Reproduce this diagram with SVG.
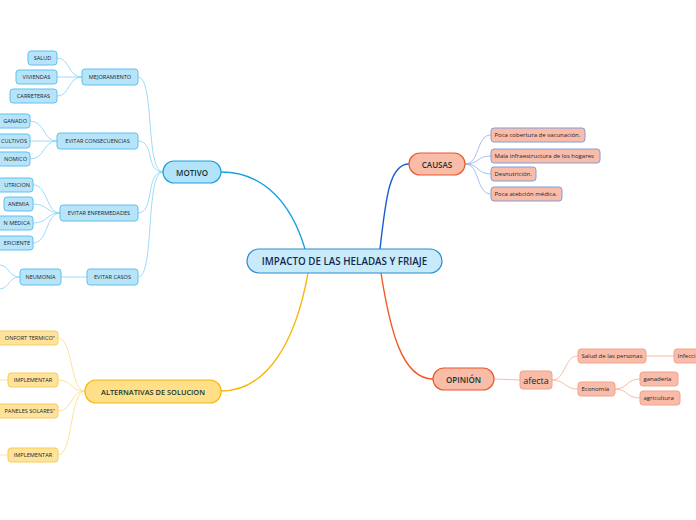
<svg xmlns="http://www.w3.org/2000/svg" width="696" height="520" viewBox="0 0 696 520">
<style>
text{font-family:"Open Sans","Noto Sans","DejaVu Sans",sans-serif;fill:#1a2430;dominant-baseline:central}
.t{text-anchor:middle}
.e{text-anchor:end}
.bl{fill:#b7e4f9;stroke:#5fc1ee;stroke-width:1}
.blm{fill:#b3e3fa;stroke:#1ba1e2;stroke-width:1.2}
.ctr{fill:#c8ebfb;stroke:#2b8ccf;stroke-width:1.2}
.yl{fill:#ffe39a;stroke:#f8cd5a;stroke-width:1}
.ylm{fill:#ffdf88;stroke:#f6b90f;stroke-width:1.2}
.sm{fill:#f9bca9;stroke:#e9592b;stroke-width:1.2}
.sc{fill:#f9bca9;stroke:#7f9fdc;stroke-width:1}
.so{fill:#f9bca9;stroke:#f3a289;stroke-width:1}
.s6{font-size:5.6px}
.s5{font-size:6px}
.m{font-size:8px;fill:#133630;font-weight:600}
.c{fill:none}
.cb{stroke:#86d2f5;stroke-width:0.8}
.cy{stroke:#fcd98a;stroke-width:0.8}
.cc{stroke:#8fb0ec;stroke-width:0.8}
.co{stroke:#f8b29c;stroke-width:0.9}
</style>
<g id="connectors" class="c">
<path d="M305,249 C292,205 265,172 221,172" stroke="#1aa0e0" stroke-width="1.4" fill="none"/>
<path d="M380,249 C386,195 390,164 409,164" stroke="#1a5fcc" stroke-width="1.4" fill="none"/>
<path d="M381,273 C390,330 402,379 433,379" stroke="#f25a24" stroke-width="1.4" fill="none"/>
<path d="M308,273 C296,340 268,391 221,391" stroke="#f7b500" stroke-width="1.4" fill="none"/>
<g class="cb" fill="none">
<path d="M163,172 C145,172 155,77 138,77"/>
<path d="M163,172 C145,172 155,141 138,141"/>
<path d="M163,172 C145,172 155,213 138,213"/>
<path d="M163,172 C145,172 155,277 138,277"/>
<path d="M82,77 C68,77 70,58 57,58"/>
<path d="M82,77 L57,77"/>
<path d="M82,77 C68,77 70,96 57,96"/>
<path d="M57,141 C43,141 45,121 30,121"/>
<path d="M57,141 L30,141"/>
<path d="M57,141 C43,141 45,159 30,159"/>
<path d="M60,213 C46,213 48,185 33,185"/>
<path d="M60,213 C46,213 48,204 33,204"/>
<path d="M60,213 C46,213 48,223 33,223"/>
<path d="M60,213 C46,213 48,243 33,243"/>
<path d="M87,277 L61,277"/>
<path d="M20,277 C8,277 10,266 0,265"/>
<path d="M20,277 C8,277 10,288 0,289"/>
</g>
<g class="cy" fill="none">
<path d="M85,391 C70,391 73,338 58,338"/>
<path d="M85,391 C70,391 73,380 58,380"/>
<path d="M85,391 C70,391 73,411 58,411"/>
<path d="M85,391 C70,391 73,455 58,455"/>
<path d="M8,380 L0,380"/>
<path d="M8,455 L0,455"/>
</g>
<g class="cc" fill="none">
<path d="M465,164 C480,164 476,135 491,135"/>
<path d="M465,164 C480,164 476,156 491,156"/>
<path d="M465,164 C480,164 476,174 491,174"/>
<path d="M465,164 C480,164 476,194 491,194"/>
</g>
<g class="co" fill="none">
<path d="M494,379 L520,380"/>
<path d="M552,380 C566,380 564,356 578,356"/>
<path d="M552,380 C566,380 564,389 578,389"/>
<path d="M646,356 L674,356"/>
<path d="M615,389 C628,389 626,379 640,379"/>
<path d="M615,389 C628,389 626,398 640,398"/>
</g>
</g>
<g id="central"><rect class="ctr" x="247" y="249" width="195" height="24" rx="12"/><text class="t" x="344.5" y="261" style="font-size:9.8px;fill:#14294f;font-weight:600">IMPACTO DE LAS HELADAS Y FRIAJE</text></g>
<g id="motivo"><rect class="blm" x="163" y="161" width="58" height="22" rx="11"/><text class="t m" x="192" y="172">MOTIVO</text></g>
<g id="causas"><rect class="sm" x="409" y="153" width="56" height="22" rx="11"/><text class="t m" x="437" y="164">CAUSAS</text></g>
<g id="opinion"><rect class="sm" x="433" y="368" width="61" height="22" rx="11"/><text class="t m" x="463.5" y="379">OPINIÓN</text></g>
<g id="alternativas"><rect class="ylm" x="85" y="380" width="136" height="23" rx="11"/><text class="t m" x="153" y="391.5" style="font-size:7.4px">ALTERNATIVAS DE SOLUCION</text></g>
<g id="mejoramiento"><rect class="bl" x="82" y="69" width="56" height="16" rx="3"/><text class="t s6" x="110" y="77">MEJORAMIENTO</text></g>
<g id="evitar-consecuencias"><rect class="bl" x="57" y="133" width="81" height="16" rx="3"/><text class="t s6" x="97.5" y="141">EVITAR CONSECUENCIAS</text></g>
<g id="evitar-enfermedades"><rect class="bl" x="60" y="205" width="78" height="16" rx="3"/><text class="t s6" x="99" y="213">EVITAR ENFERMEDADES</text></g>
<g id="evitar-casos"><rect class="bl" x="87" y="269" width="51" height="16" rx="3"/><text class="t s6" x="112.5" y="277">EVITAR CASOS</text></g>
<g id="salud"><rect class="bl" x="28" y="51" width="29" height="14" rx="3"/><text class="t s6" x="42.5" y="58">SALUD</text></g>
<g id="viviendas"><rect class="bl" x="16" y="70" width="41" height="14" rx="3"/><text class="t s6" x="36.5" y="77">VIVIENDAS</text></g>
<g id="carreteras"><rect class="bl" x="10" y="89" width="47" height="14" rx="3"/><text class="t s6" x="33.5" y="96">CARRETERAS</text></g>
<g id="ganado"><rect class="bl" x="-20" y="114" width="50" height="14" rx="3"/><text class="e s6" x="27" y="121">GANADO</text></g>
<g id="cultivos"><rect class="bl" x="-20" y="134" width="50" height="14" rx="3"/><text class="e s6" x="27" y="141">CULTIVOS</text></g>
<g id="economico"><rect class="bl" x="-20" y="152" width="50" height="14" rx="3"/><text class="e s6" x="27" y="159">NOMICO</text></g>
<g id="nutricion"><rect class="bl" x="-20" y="178" width="53" height="14" rx="3"/><text class="e s6" x="30" y="185">UTRICION</text></g>
<g id="anemia"><rect class="bl" x="4" y="197" width="29" height="14" rx="3"/><text class="t s6" x="18.5" y="204">ANEMIA</text></g>
<g id="atencion-medica"><rect class="bl" x="-20" y="216" width="53" height="14" rx="3"/><text class="e s6" x="30" y="223">N MEDICA</text></g>
<g id="deficiente"><rect class="bl" x="-20" y="236" width="53" height="14" rx="3"/><text class="e s6" x="30" y="243">EFICIENTE</text></g>
<g id="neumonia"><rect class="bl" x="20" y="269" width="41" height="16" rx="3"/><text class="t s6" x="40.5" y="277">NEUMONÍA</text></g>
<g id="confort"><rect class="yl" x="-20" y="331" width="78" height="14" rx="3"/><text class="e s6" x="55" y="338">ONFORT TERMICO"</text></g>
<g id="implementar1"><rect class="yl" x="8" y="373" width="50" height="14" rx="3"/><text class="t s6" x="33" y="380">IMPLEMENTAR</text></g>
<g id="paneles"><rect class="yl" x="-20" y="404" width="78" height="14" rx="3"/><text class="e s6" x="55" y="411">PANELES SOLARES"</text></g>
<g id="implementar2"><rect class="yl" x="8" y="448" width="50" height="14" rx="3"/><text class="t s6" x="33" y="455">IMPLEMENTAR</text></g>
<g id="causa1"><rect class="sc" x="491" y="128" width="94" height="14" rx="3"/><text class="s5" x="494.5" y="135">Poca cobertura de vacunación.</text></g>
<g id="causa2"><rect class="sc" x="491" y="149" width="109" height="14" rx="3"/><text class="s5" x="494.5" y="156">Mala infraestructura de los hogares</text></g>
<g id="causa3"><rect class="sc" x="491" y="167" width="45" height="14" rx="3"/><text class="s5" x="494.5" y="174">Desnutrición.</text></g>
<g id="causa4"><rect class="sc" x="491" y="187" width="71" height="14" rx="3"/><text class="s5" x="494.5" y="194">Poca atebción médica.</text></g>
<g id="afecta"><rect class="so" x="520" y="371" width="32" height="18" rx="3"/><text class="t" x="536" y="380" style="font-size:9px">afecta</text></g>
<g id="salud-personas"><rect class="so" x="578" y="349" width="68" height="14" rx="3"/><text class="s5" x="581.5" y="356">Salud de las personas</text></g>
<g id="infecciones"><rect class="so" x="674" y="349" width="40" height="14" rx="3"/><text class="s5" x="677.5" y="356">Infecci</text></g>
<g id="economia"><rect class="so" x="578" y="382" width="37" height="14" rx="3"/><text class="s5" x="581.5" y="389">Economía</text></g>
<g id="ganaderia"><rect class="so" x="640" y="372" width="38" height="14" rx="3"/><text class="s5" x="643.5" y="379">ganadería</text></g>
<g id="agricultura"><rect class="so" x="640" y="391" width="40" height="14" rx="3"/><text class="s5" x="643.5" y="398">agricultura</text></g>
</svg>
